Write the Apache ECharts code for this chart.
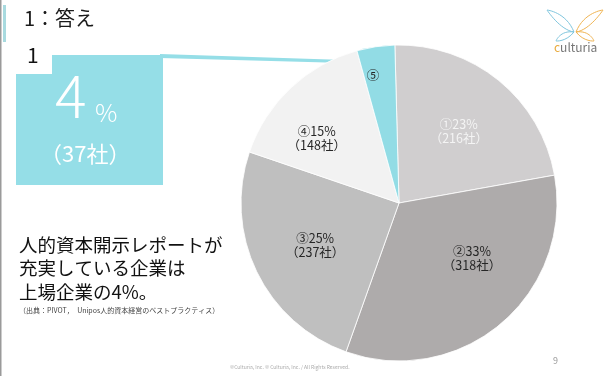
<!DOCTYPE html>
<html>
<head>
<meta charset="utf-8">
<script src="https://cdn.jsdelivr.net/npm/echarts@6/dist/echarts.min.js"></script>
<style>
  html,body{margin:0;padding:0;background:#fff;}
  #main{width:604px;height:376px;}
</style>
</head>
<body>
<div id="main"></div>
<script>
  // データ
  let categories = ['①', '②', '③', '④', '⑤'];
  let shares = ['23%', '33%', '25%', '15%', '4%'];
  let companies = [216, 318, 237, 148, 37];
  let sliceColors = ['#d0cecf', '#aeabab', '#bfbfbf', '#f2f2f2', '#92dce5'];
  let labelColors = ['#f4f4f4', '#262626', '#262626', '#262626', '#262626'];
  // ラベルの微調整（元画像に合わせる）
  let labelNudge = [[8, -8], [20, -7], [-10, 7], [-26, -5], [-14, -47]];

  let font = '"Noto Sans CJK JP", "Noto Sans", sans-serif';
  let cyan = '#95dee7';

  let pieData = [];
  categories.map(function (c, i) {
    pieData.push({
      name: c,
      value: companies[i],
      itemStyle: { color: sliceColors[i] },
      label: { color: labelColors[i] }
    });
  });

  // ロゴの羽（ベジェ）
  function wing(x1, y1, x2, y2, c1x, c1y, c2x, c2y, color) {
    return [
      { type: 'bezierCurve', shape: { x1: x1, y1: y1, x2: x2, y2: y2, cpx1: c1x, cpy1: c1y, cpx2: x2, cpy2: y2 }, style: { stroke: color, lineWidth: 1, fill: null } },
      { type: 'bezierCurve', shape: { x1: x1, y1: y1, x2: x2, y2: y2, cpx1: c2x, cpy1: c2y, cpx2: x2, cpy2: y2 }, style: { stroke: color, lineWidth: 1, fill: null } }
    ];
  }
  let logo = [].concat(
    wing(574, 32, 547, 10, 566, 12, 560, 30, '#7fc6de'),
    wing(574, 32, 556, 41, 560, 30, 566, 42, '#7fc6de'),
    wing(576, 32, 603, 10, 584, 12, 590, 30, '#f0b452'),
    wing(576, 32, 594, 41, 590, 30, 584, 42, '#f0b452')
  );

  let chartDom = document.getElementById('main');
  let myChart = echarts.init(chartDom, null, { renderer: 'canvas' });
  let option = {
    animation: false,
    backgroundColor: '#fff',
    textStyle: { fontFamily: font },
    graphic: [
      // 左端の線
      { type: 'rect', shape: { x: 0, y: 0, width: 1.5, height: 376 }, style: { fill: '#9a9a9a' } },
      { type: 'rect', shape: { x: 3, y: 5, width: 3, height: 37 }, style: { fill: '#a8dadf' } },
      // タイトル
      { type: 'text', x: 24, y: 8, style: { text: '1：答え', font: '20px ' + font, fill: '#1a1a1a' } },
      // 4%ボックス
      { type: 'rect', shape: { x: 52, y: 55, width: 111, height: 130 }, style: { fill: cyan } },
      { type: 'rect', shape: { x: 16, y: 74, width: 40, height: 111 }, style: { fill: cyan } },
      { type: 'text', x: 27, y: 45, style: { text: '1', font: '21px ' + font, fill: '#111' } },
      // 引き出し線
      { type: 'polygon', shape: { points: [[160, 54], [345, 60], [345, 63], [160, 58]] }, style: { fill: cyan } },
      { type: 'text', x: 55, y: 66, style: { text: '4', font: '300 59px ' + font, fill: '#fff' } },
      { type: 'text', x: 95, y: 100, style: { text: '%', font: '300 25px ' + font, fill: '#fff' } },
      { type: 'text', x: 40, y: 143, style: { text: '（37社）', font: '22px ' + font, fill: '#fff' } },
      // 本文
      { type: 'text', x: 19, y: 233, style: { text: '人的資本開示レポートが\n充実している企業は\n上場企業の4%。', font: '18.5px ' + font, fill: '#111', lineHeight: 23.5 } },
      { type: 'text', x: 19, y: 307, style: { text: '（出典：PIVOT，　Unipos人的資本経営のベストプラクティス）', font: '7px ' + font, fill: '#444' } },
      // フッター
      { type: 'text', x: 230, y: 365, style: { text: '©Culturia, Inc. © Culturia, Inc. / All Rights Reserved.', font: '5px ' + font, fill: '#aaa' } },
      { type: 'text', x: 553, y: 356, style: { text: '9', font: '9px ' + font, fill: '#999' } },
      // ロゴ文字
      { type: 'text', x: 554, y: 41, style: { text: '{o|c}ulturia', font: '12px ' + font, fill: '#777', rich: { o: { fill: '#e8a93a', font: '12px ' + font } } } }
    ].concat(logo),
    series: [
      {
        type: 'pie',
        center: [399, 203],
        radius: ['0%', 158],
        startAngle: 91.5,
        clockwise: true,
        data: pieData,
        itemStyle: { borderColor: '#fff', borderWidth: 0.8 },
        label: {
          show: true,
          position: 'inside',
          fontSize: 12.5,
          lineHeight: 14,
          fontFamily: font,
          formatter: function (p) {
            if (p.dataIndex === 4) {
              return p.name;
            }
            return p.name + shares[p.dataIndex] + '\n（' + companies[p.dataIndex] + '社）';
          }
        },
        labelLayout: function (params) {
          let n = labelNudge[params.dataIndex];
          return { dx: n[0], dy: n[1] };
        },
        labelLine: { show: false }
      }
    ]
  };
  window.onresize = myChart.resize;
  myChart.setOption(option);
</script>
</body>
</html>
